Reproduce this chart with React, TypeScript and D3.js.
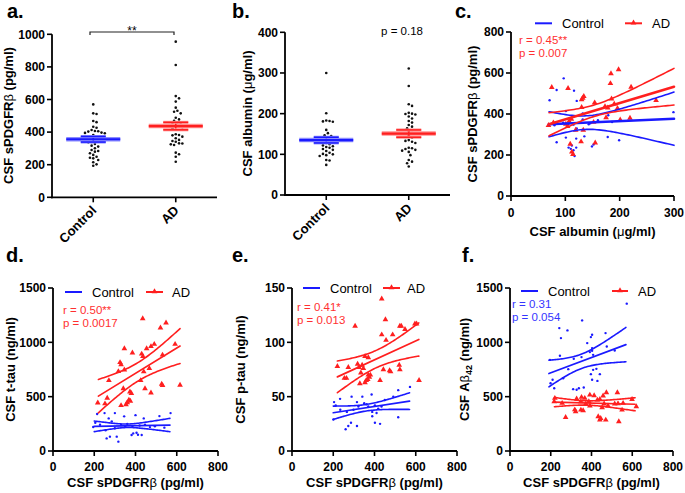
import React from 'react';
import * as d3 from 'd3';

const FONT = "'Liberation Sans', Arial, Helvetica, sans-serif";
const BLUE = '#1a1aff';
const RED = '#ff1f1f';
const BLUE_TXT = '#3535ff';
const RED_TXT = '#ff3030';

type Pt = [number, number];
type Fit = { x: [number, number]; y: [number, number]; m: number; a: number; b: number };

// ---------- Panel a: CSF sPDGFRβ by group ----------
const groups = ['Control', 'AD'];
const aControl = [570, 515, 511, 468, 461, 433, 427, 413, 407, 405, 403, 397, 395, 393, 382, 372, 362, 360, 352, 350, 345, 340, 337, 327, 317, 311, 301, 290, 284, 280, 270, 260, 249, 243, 239, 229, 215, 202, 194];
const aAD = [955, 812, 621, 607, 587, 550, 531, 525, 515, 488, 478, 470, 460, 458, 450, 444, 440, 433, 430, 423, 387, 382, 380, 372, 362, 352, 345, 341, 331, 330, 325, 321, 274, 264, 249, 218];
const aMean = [356, 437];
const aSEM = [17, 23];
const aTicks = [0, 200, 400, 600, 800, 1000];

// ---------- Panel b: CSF albumin by group ----------
const bControl = [300, 201, 183, 182, 181, 180, 160, 152, 147, 145, 142, 140, 137, 134, 130, 128, 125, 122, 120, 118, 116, 113, 111, 108, 104, 101, 100, 98, 96, 86, 85, 74];
const bAD = [311, 268, 223, 219, 202, 200, 199, 198, 193, 188, 182, 178, 172, 168, 164, 156, 152, 147, 141, 135, 133, 131, 128, 116, 115, 113, 111, 109, 106, 98, 86, 82, 78, 70];
const bMean = [135, 151];
const bSEM = [7, 9];
const bTicks = [0, 100, 200, 300, 400];

// ---------- Panel c: albumin vs sPDGFRβ ----------
const cControl: Pt[] = [[71, 467], [84, 517], [97, 574], [116, 514], [121, 464], [101, 415], [132, 403], [84, 262], [101, 285], [106, 236], [110, 230], [112, 246], [115, 223], [115, 201], [117, 195], [120, 236], [120, 280], [135, 291], [149, 242], [152, 251], [143, 350], [146, 355], [132, 374], [178, 288], [199, 272], [186, 361], [179, 394], [299, 409], [115, 348], [106, 352], [121, 330], [96, 357], [160, 370], [80, 345]];
const cAD: Pt[] = [[75, 530], [105, 525], [132, 478], [134, 486], [130, 470], [184, 597], [198, 617], [183, 549], [221, 531], [267, 466], [154, 455], [130, 433], [173, 436], [190, 449], [185, 474], [178, 430], [196, 428], [69, 345], [78, 357], [101, 351], [107, 365], [111, 375], [119, 322], [133, 322], [129, 265], [155, 259], [109, 253], [112, 215], [114, 203], [152, 360], [201, 372], [219, 380], [175, 383], [104, 340]];
const cFitControl: Fit = { x: [70, 300], y: [350, 377], m: 137, a: 33, b: 0.77 };
const cFitAD: Fit = { x: [70, 300], y: [350, 533], m: 154, a: 28, b: 0.582 };
const cXTicks = [0, 100, 200, 300];
const cYTicks = [0, 200, 400, 600, 800];

// ---------- Panel d: sPDGFRβ vs t-tau ----------
const dControl: Pt[] = [[214, 340], [250, 349], [270, 300], [300, 349], [345, 319], [400, 330], [440, 300], [516, 321], [570, 349], [195, 221], [228, 242], [285, 273], [330, 240], [446, 242], [494, 227], [360, 250], [260, 116], [276, 132], [309, 132], [317, 86], [381, 147], [389, 162], [405, 168], [412, 150], [430, 147], [385, 230], [205, 260], [300, 210], [350, 225], [420, 235], [470, 220], [540, 215], [255, 190]];
const dAD: Pt[] = [[435, 1219], [548, 1179], [521, 1134], [346, 943], [385, 904], [430, 893], [436, 870], [454, 943], [475, 962], [491, 983], [592, 983], [325, 815], [330, 795], [317, 732], [346, 747], [271, 649], [425, 649], [467, 761], [446, 575], [475, 536], [527, 616], [531, 603], [616, 607], [341, 575], [373, 545], [380, 530], [263, 487], [252, 435], [217, 444], [330, 419], [354, 427], [360, 445], [368, 470], [375, 460], [531, 884], [440, 730]];
const dFitControl: Fit = { x: [200, 567], y: [227, 239], m: 361, a: 16, b: 0.287 };
const dFitAD: Fit = { x: [220, 616], y: [505, 966], m: 412, a: 85, b: 0.667 };
const dXTicks = [0, 200, 400, 600, 800];
const dYTicks = [0, 500, 1000, 1500];

// ---------- Panel e: sPDGFRβ vs p-tau ----------
const eControl: Pt[] = [[204, 45], [212, 42], [233, 48], [289, 50], [341, 50], [386, 52], [450, 47], [515, 56], [572, 59], [491, 50], [201, 29], [234, 38], [266, 36], [298, 38], [315, 45], [370, 41], [362, 43], [402, 42], [389, 36], [410, 35], [418, 39], [434, 41], [260, 20], [273, 23], [315, 23], [286, 26], [402, 26], [427, 25], [389, 32], [515, 31], [322, 41], [350, 44]];
const eAD: Pt[] = [[435, 140], [306, 115], [453, 121], [435, 107], [456, 102], [488, 107], [523, 115], [530, 115], [548, 112], [596, 117], [604, 117], [354, 87], [370, 86], [220, 78], [273, 77], [318, 80], [325, 77], [346, 76], [340, 79], [254, 67], [264, 67], [370, 70], [375, 68], [380, 70], [443, 75], [473, 74], [478, 73], [520, 79], [523, 75], [427, 65], [329, 62], [354, 63], [360, 65], [367, 66], [616, 65], [334, 72]];
const eFitControl: Fit = { x: [200, 570], y: [35.2, 45.9], m: 360, a: 3, b: 0.0335 };
const eFitAD: Fit = { x: [220, 615], y: [68.2, 102.6], m: 411, a: 8, b: 0.0637 };
const eYTicks = [0, 50, 100, 150];

// ---------- Panel f: sPDGFRβ vs Aβ42 ----------
const fControl: Pt[] = [[573, 1356], [354, 1202], [242, 1131], [282, 1110], [250, 1039], [403, 1070], [397, 1048], [469, 1085], [379, 993], [403, 947], [475, 962], [514, 925], [196, 839], [245, 876], [313, 848], [351, 864], [408, 885], [286, 753], [261, 670], [209, 655], [199, 624], [217, 578], [310, 569], [327, 563], [338, 578], [362, 584], [403, 655], [397, 707], [441, 707], [429, 645], [408, 747], [424, 756], [403, 922], [392, 910]];
const fAD: Pt[] = [[220, 486], [351, 495], [367, 486], [392, 516], [413, 510], [441, 476], [473, 538], [527, 538], [599, 476], [457, 507], [217, 455], [256, 440], [327, 480], [348, 455], [372, 434], [387, 455], [429, 470], [462, 434], [481, 415], [514, 434], [530, 436], [555, 440], [620, 409], [273, 310], [322, 363], [318, 380], [348, 378], [359, 372], [392, 415], [433, 317], [441, 286], [445, 300], [470, 286], [534, 271], [550, 378], [452, 400]];
const fFitControl: Fit = { x: [191, 569], y: [713, 979], m: 349, a: 66, b: 0.653 };
const fFitAD: Fit = { x: [218, 614], y: [450, 430], m: 377, a: 20, b: 0.239 };

const triPath = d3.symbol().type(d3.symbolTriangle).size(14)() as string;

function beeswarm(values: number[], ys: (v: number) => number, cx: number, d: number): Pt[] {
  const sorted = [...values].sort((p, q) => q - p);
  const placed: Pt[] = [];
  sorted.forEach((v) => {
    const y = ys(v);
    for (let k = 0; k < 80; k++) {
      const off = k === 0 ? 0 : (k % 2 === 1 ? 1 : -1) * Math.ceil(k / 2) * d * 0.5;
      const x = cx + off;
      if (placed.every(([px, py]) => (px - x) ** 2 + (py - y) ** 2 >= d * d)) {
        placed.push([x, y]);
        return;
      }
    }
    placed.push([cx, y]);
  });
  return placed;
}

function YAxis({ ys, ticks, x }: { ys: d3.ScaleLinear<number, number>; ticks: number[]; x: number }) {
  const top = ys(ticks[ticks.length - 1]);
  const bottom = ys(ticks[0]);
  return (
    <g>
      <line x1={x} x2={x} y1={top} y2={bottom + 1} stroke="#000" strokeWidth={1.8} />
      {ticks.map((t) => (
        <g key={t}>
          <line x1={x - 5} x2={x} y1={ys(t)} y2={ys(t)} stroke="#000" strokeWidth={1.6} />
          <text x={x - 7} y={ys(t) + 4.3} textAnchor="end" fontSize={12} fontWeight="bold">{t}</text>
        </g>
      ))}
    </g>
  );
}

function XAxis({ xs, ticks, y, labelY }: { xs: d3.ScaleLinear<number, number>; ticks: number[]; y: number; labelY: number }) {
  const [r0, r1] = xs.range();
  return (
    <g>
      <line x1={r0 - 1} x2={r1} y1={y} y2={y} stroke="#000" strokeWidth={1.8} />
      {ticks.map((t) => (
        <g key={t}>
          <line x1={xs(t)} x2={xs(t)} y1={y} y2={y + 5} stroke="#000" strokeWidth={1.6} />
          <text x={xs(t)} y={labelY} textAnchor="middle" fontSize={12} fontWeight="bold">{t}</text>
        </g>
      ))}
    </g>
  );
}

function FitLines({ fit, xs, ys, color, midW }: { fit: Fit; xs: d3.ScaleLinear<number, number>; ys: d3.ScaleLinear<number, number>; color: string; midW: number }) {
  const center = (x: number) => fit.y[0] + ((fit.y[1] - fit.y[0]) * (x - fit.x[0])) / (fit.x[1] - fit.x[0]);
  const half = (x: number) => Math.sqrt(fit.a * fit.a + fit.b * fit.b * (x - fit.m) * (x - fit.m));
  const samples = d3.range(61).map((i) => fit.x[0] + ((fit.x[1] - fit.x[0]) * i) / 60);
  const line = d3.line<Pt>().x((d) => xs(d[0])).y((d) => ys(d[1]));
  const mid = line([[fit.x[0], center(fit.x[0])], [fit.x[1], center(fit.x[1])]]) as string;
  const up = line(samples.map((x) => [x, center(x) + half(x)] as Pt)) as string;
  const lo = line(samples.map((x) => [x, center(x) - half(x)] as Pt)) as string;
  return (
    <g fill="none" stroke={color} strokeLinecap="round">
      <path d={up} strokeWidth={1.6} />
      <path d={lo} strokeWidth={1.6} />
      <path d={mid} strokeWidth={midW} />
    </g>
  );
}

function Legend({ y, cLine, cText, aLine, aText }: { y: number; cLine: [number, number]; cText: number; aLine: [number, number]; aText: number }) {
  return (
    <g fontSize={13}>
      <line x1={cLine[0]} x2={cLine[1]} y1={y} y2={y} stroke={BLUE} strokeWidth={2} />
      <text x={cText} y={y + 4.6}>Control</text>
      <line x1={aLine[0]} x2={aLine[1]} y1={y} y2={y} stroke={RED} strokeWidth={2} />
      <path d={triPath} transform={`translate(${(aLine[0] + aLine[1]) / 2},${y - 0.5})`} fill={RED} />
      <text x={aText} y={y + 4.6}>AD</text>
    </g>
  );
}

function YTitle({ x, y, children }: { x: number; y: number; children: React.ReactNode }) {
  return (
    <text transform={`translate(${x},${y}) rotate(-90)`} textAnchor="middle" fontSize={13} fontWeight="bold">
      {children}
    </text>
  );
}

const Beta = () => <tspan fontWeight="normal">β</tspan>;
const Mu = () => <tspan fontWeight="normal">μ</tspan>;

function StripPanel(props: {
  x0: number; x1: number; ys: d3.ScaleLinear<number, number>; ticks: number[];
  control: number[]; ad: number[]; mean: number[]; sem: number[];
}) {
  const { x0, x1, ys, ticks, control, ad, mean, sem } = props;
  const xs = d3.scalePoint<string>().domain(groups).range([x0, x1]).padding(0.5);
  const y0 = ys(ticks[0]);
  const colors = [BLUE, RED];
  const light = ['#8c8cff', '#ff9090'];
  const data = [control, ad];
  return (
    <g>
      {groups.map((g, i) => {
        const cx = xs(g) as number;
        const pts = beeswarm(data[i], ys, cx, 3.3);
        const m = ys(mean[i]);
        const hi = ys(mean[i] + sem[i]);
        const lo = ys(mean[i] - sem[i]);
        return (
          <g key={g}>
            {pts.map(([px, py], k) => (
              <circle key={k} cx={px} cy={py} r={1.3} fill="#111" />
            ))}
            <line x1={cx - 27} x2={cx + 27} y1={m} y2={m} stroke={light[i]} strokeWidth={4.5} />
            <line x1={cx - 27} x2={cx + 27} y1={m} y2={m} stroke={colors[i]} strokeWidth={2.2} />
            <line x1={cx} x2={cx} y1={hi} y2={lo} stroke={colors[i]} strokeWidth={1.6} />
            {[hi, lo].map((yy, k) => (
              <g key={k}>
                <line x1={cx - 12.5} x2={cx + 12.5} y1={yy} y2={yy} stroke={light[i]} strokeWidth={3} />
                <line x1={cx - 12.5} x2={cx + 12.5} y1={yy} y2={yy} stroke={colors[i]} strokeWidth={1.5} />
              </g>
            ))}
          </g>
        );
      })}
      <YAxis ys={ys} ticks={ticks} x={x0} />
      <line x1={x0 - 1} x2={x1} y1={y0} y2={y0} stroke="#000" strokeWidth={1.8} />
      {groups.map((g) => {
        const cx = xs(g) as number;
        return (
          <g key={g}>
            <line x1={cx} x2={cx} y1={y0} y2={y0 + 5} stroke="#000" strokeWidth={1.6} />
            <text transform={`translate(${cx + 4},${y0 + 14}) rotate(-45)`} textAnchor="end" fontSize={13} fontWeight="bold">{g}</text>
          </g>
        );
      })}
    </g>
  );
}

function ScatterPanel(props: {
  xs: d3.ScaleLinear<number, number>; ys: d3.ScaleLinear<number, number>;
  xTicks: number[]; yTicks: number[]; tickY: number;
  control: Pt[]; ad: Pt[]; fitC: Fit; fitA: Fit; midW: number;
}) {
  const { xs, ys, xTicks, yTicks, tickY, control, ad, fitC, fitA, midW } = props;
  const x0 = xs.range()[0];
  const y0 = ys(yTicks[0]);
  return (
    <g>
      {control.map(([x, y], k) => (
        <circle key={`c${k}`} cx={xs(x)} cy={ys(y)} r={1.2} fill={BLUE} />
      ))}
      {ad.map(([x, y], k) => (
        <path key={`a${k}`} d={triPath} transform={`translate(${xs(x)},${ys(y)})`} fill={RED} />
      ))}
      <FitLines fit={fitC} xs={xs} ys={ys} color={BLUE} midW={midW} />
      <FitLines fit={fitA} xs={xs} ys={ys} color={RED} midW={midW} />
      <YAxis ys={ys} ticks={yTicks} x={x0} />
      <XAxis xs={xs} ticks={xTicks} y={y0} labelY={tickY} />
    </g>
  );
}

function Annot({ x, y, lines, color }: { x: number; y: number; lines: string[]; color: string }) {
  return (
    <g fontSize={11.5} fill={color}>
      {lines.map((l, i) => (
        <text key={i} x={x} y={y + i * 13.2}>{l}</text>
      ))}
    </g>
  );
}

export default function App() {
  const aY = d3.scaleLinear().domain([0, 1000]).range([197.3, 34.3]);
  const bY = d3.scaleLinear().domain([0, 400]).range([195, 32.3]);
  const cX = d3.scaleLinear().domain([0, 300]).range([511, 674]);
  const cY = d3.scaleLinear().domain([0, 800]).range([196, 32]);
  const dX = d3.scaleLinear().domain([0, 800]).range([53, 218]);
  const dY = d3.scaleLinear().domain([0, 1500]).range([451, 288]);
  const eX = d3.scaleLinear().domain([0, 800]).range([292, 457]);
  const eY = d3.scaleLinear().domain([0, 150]).range([451, 288]);
  const fX = d3.scaleLinear().domain([0, 800]).range([510, 673]);
  const fY = d3.scaleLinear().domain([0, 1500]).range([451, 288]);

  return (
    <svg width={685} height={493} viewBox="0 0 685 493" style={{ position: 'absolute', left: 0, top: 0, background: '#fff' }} fontFamily={FONT}>
      <rect width={685} height={493} fill="#fff" />
      {/* panel labels */}
      <g fontSize={20} fontWeight="bold">
        <text x={7} y={17.5}>a.</text>
        <text x={232} y={17.5}>b.</text>
        <text x={455} y={17.5}>c.</text>
        <text x={6} y={262}>d.</text>
        <text x={232} y={262}>e.</text>
        <text x={462} y={262}>f.</text>
      </g>

      {/* a */}
      <StripPanel x0={52} x1={217} ys={aY} ticks={aTicks} control={aControl} ad={aAD} mean={aMean} sem={aSEM} />
      <YTitle x={12.5} y={115.5}>CSF sPDGFR<Beta /> (pg/ml)</YTitle>
      <g stroke="#222" strokeWidth={1.2} fill="none">
        <path d="M90,35 V32 H174 V35" />
      </g>
      <text x={132} y={35} textAnchor="middle" fontSize={12}>**</text>

      {/* b */}
      <StripPanel x0={285} x1={450} ys={bY} ticks={bTicks} control={bControl} ad={bAD} mean={bMean} sem={bSEM} />
      <YTitle x={252} y={113.5}>CSF albumin (<Mu />g/ml)</YTitle>
      <text x={402} y={35} textAnchor="middle" fontSize={11.5}>p = 0.18</text>

      {/* c */}
      <ScatterPanel xs={cX} ys={cY} xTicks={cXTicks} yTicks={cYTicks} tickY={216.5} control={cControl} ad={cAD} fitC={cFitControl} fitA={cFitAD} midW={2.6} />
      <YTitle x={477} y={114}>CSF sPDGFR<Beta /> (pg/ml)</YTitle>
      <text x={592.5} y={235.5} textAnchor="middle" fontSize={13} fontWeight="bold">CSF albumin (<Mu />g/ml)</text>
      <Legend y={23.3} cLine={[535, 552]} cText={562} aLine={[625, 642]} aText={652} />
      <Annot x={519} y={44} lines={['r = 0.45**', 'p = 0.007']} color={RED_TXT} />

      {/* d */}
      <ScatterPanel xs={dX} ys={dY} xTicks={dXTicks} yTicks={dYTicks} tickY={471} control={dControl} ad={dAD} fitC={dFitControl} fitA={dFitAD} midW={1.7} />
      <YTitle x={15.3} y={369.5}>CSF t-tau (ng/ml)</YTitle>
      <text x={135.5} y={487} textAnchor="middle" fontSize={13} fontWeight="bold">CSF sPDGFR<Beta /> (pg/ml)</text>
      <Legend y={292} cLine={[65, 82]} cText={92} aLine={[146, 163]} aText={172} />
      <Annot x={63} y={313.5} lines={['r = 0.50**', 'p = 0.0017']} color={RED_TXT} />

      {/* e */}
      <ScatterPanel xs={eX} ys={eY} xTicks={dXTicks} yTicks={eYTicks} tickY={471} control={eControl} ad={eAD} fitC={eFitControl} fitA={eFitAD} midW={1.7} />
      <YTitle x={245.3} y={369.5}>CSF p-tau (ng/ml)</YTitle>
      <text x={374.5} y={487} textAnchor="middle" fontSize={13} fontWeight="bold">CSF sPDGFR<Beta /> (pg/ml)</text>
      <Legend y={288} cLine={[303, 320]} cText={330} aLine={[383, 400]} aText={407} />
      <Annot x={297} y={311} lines={['r = 0.41*', 'p = 0.013']} color={RED_TXT} />

      {/* f */}
      <ScatterPanel xs={fX} ys={fY} xTicks={dXTicks} yTicks={dYTicks} tickY={471} control={fControl} ad={fAD} fitC={fFitControl} fitA={fFitAD} midW={1.7} />
      <YTitle x={469.3} y={369.5}>
        CSF A<Beta />
        <tspan fontSize={9} dy={3}>42</tspan>
        <tspan dy={-3}> (ng/ml)</tspan>
      </YTitle>
      <text x={591.5} y={487} textAnchor="middle" fontSize={13} fontWeight="bold">CSF sPDGFR<Beta /> (pg/ml)</text>
      <Legend y={291} cLine={[521, 538]} cText={548} aLine={[612, 628]} aText={638} />
      <Annot x={512} y={308} lines={['r = 0.31', 'p = 0.054']} color={BLUE_TXT} />
    </svg>
  );
}
